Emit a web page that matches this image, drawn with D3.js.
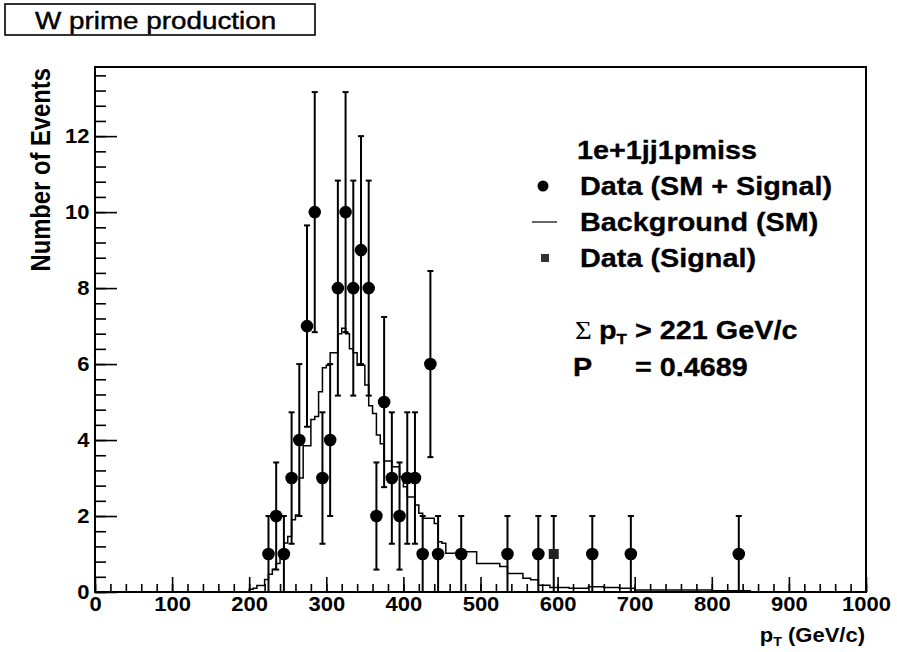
<!DOCTYPE html>
<html><head><meta charset="utf-8">
<script src="https://cdn.jsdelivr.net/npm/d3@7"></script>
<style>body{margin:0;background:#fff} svg{display:block}</style>
</head><body>
<svg id="c" width="897" height="652"></svg>
<script>
// ---- data ----
const xTickValues = [0,100,200,300,400,500,600,700,800,900,1000];
const xMinorValues = d3.range(0, 1001, 20);
const yTickValues = [0,2,4,6,8,10,12];
const yMinorValues = d3.range(0, 13.8, 0.4);

const dataCenters = [225,235,245,255,265,275,285,295,305,315,325,335,345,355,365,375,385,395,405,415,425,435,445,475,535,575,645,695,835];
const dataCounts  = [1,2,1,3,4,7,10,3,4,8,10,8,9,8,2,5,3,2,3,3,1,6,1,1,1,1,1,1,1];
const dataErrors  = [1,1.41,1,1.73,2,2.65,3.16,1.73,2,2.83,3.16,2.83,3,2.83,1.41,2.24,1.73,1.41,1.73,1.73,1,2.45,1,1,1,1,1,1,1];

const signalCenters = [595];
const signalCounts  = [1];
const signalErrors  = [1];

const bgEdges = [200,205,210,220,225,230,235,240,245,250,255,260,265,270,280,285,290,295,300,305,315,320,325,330,335,340,350,355,360,365,370,375,385,395,400,405,415,420,425,440,445,450,455,475,495,525,535,555,565,575,590,615,640,660,680,700,800,850];
const bgValues = [0.07,0.10,0.17,0.33,0.47,0.60,0.75,0.97,1.29,1.46,1.90,2.03,3.00,3.85,4.54,4.62,5.27,5.90,5.97,6.30,6.80,6.94,6.80,6.40,6.30,5.97,5.45,4.90,4.70,4.13,3.90,3.45,3.30,3.03,2.77,2.50,2.29,2.07,1.94,1.80,1.32,1.28,1.02,1.06,0.75,0.67,0.49,0.36,0.32,0.18,0.12,0.10,0.14,0.12,0.10,0.05,0.03];

const titleText = "W prime production";
const legendTitle = "1e+1jj1pmiss";
const legendLabels = ["Data (SM + Signal)", "Background (SM)", "Data (Signal)"];
const cutText = "221 GeV/c";
const probText = "= 0.4689";

// ---- layout ----
const svg = d3.select("#c");
const L = 95, R = 866, T = 67, B = 592;
const x = d3.scaleLinear().domain([0, 1000]).range([L, R]);
const y = d3.scaleLinear().domain([0, 13.82]).range([B, T]);
const SX = 1.1;
const FONT = "'Liberation Sans', Arial, Helvetica, sans-serif";

// title box
svg.append("rect").attr("x", 5).attr("y", 4).attr("width", 310).attr("height", 31)
  .attr("fill", "#fff").attr("stroke", "#000").attr("stroke-width", 1.6);
svg.append("g").attr("transform", "translate(35,28.5) scale(1.15,1)")
  .append("text").attr("font-family", FONT).attr("font-size", 24.2)
  .attr("stroke", "#000").attr("stroke-width", 0.45).text(titleText);

// frame
svg.append("rect").attr("x", L).attr("y", T).attr("width", R - L).attr("height", B - T)
  .attr("fill", "none").attr("stroke", "#000").attr("stroke-width", 2);

// axes
function styleAxis(g) {
  g.select(".domain").remove();
  g.selectAll("line").attr("stroke", "#000").attr("stroke-width", 1.6);
}
const gxMinor = svg.append("g").attr("transform", `translate(0,${B})`)
  .call(d3.axisBottom(x).tickValues(xMinorValues).tickSize(-8).tickFormat(""));
styleAxis(gxMinor);
const gx = svg.append("g").attr("transform", `translate(0,${B})`)
  .call(d3.axisBottom(x).tickValues(xTickValues).tickSize(-15).tickPadding(6).tickFormat(d3.format("d")));
styleAxis(gx);
gx.selectAll("text").attr("font-family", FONT).attr("font-weight", "bold").attr("font-size", 20)
  .attr("fill", "#000").attr("y", 19).attr("dy", 0).attr("transform", `scale(${SX},1)`);

const gyMinor = svg.append("g").attr("transform", `translate(${L},0)`)
  .call(d3.axisLeft(y).tickValues(yMinorValues).tickSize(-11).tickFormat(""));
styleAxis(gyMinor);
const gy = svg.append("g").attr("transform", `translate(${L},0)`)
  .call(d3.axisLeft(y).tickValues(yTickValues).tickSize(-22).tickPadding(6).tickFormat(d3.format("d")));
styleAxis(gy);
gy.selectAll("text").attr("font-family", FONT).attr("font-weight", "bold").attr("font-size", 20)
  .attr("fill", "#000").attr("x", -5).attr("dy", "0.34em").attr("transform", `scale(${SX},1)`);

// axis titles
const xt = svg.append("g").attr("transform", `translate(865,642) scale(${SX},1)`)
  .append("text").attr("font-family", FONT).attr("font-weight", "bold").attr("font-size", 20)
  .attr("text-anchor", "end");
xt.append("tspan").text("p");
xt.append("tspan").attr("font-size", 13).attr("dy", 4).text("T");
xt.append("tspan").attr("dy", -4).text(" (GeV/c)");

svg.append("g").attr("transform", `translate(50,68) rotate(-90) scale(1,1.18)`)
  .append("text").attr("font-family", FONT).attr("font-weight", "bold").attr("font-size", 23.8)
  .attr("text-anchor", "end").text("Number of Events");

// background histogram
const plot = svg.append("g");
let d = `M${x(bgEdges[0])},${y(0)}`;
bgValues.forEach((v, i) => {
  d += `V${y(v)}H${x(bgEdges[i + 1])}`;
});
d += `V${y(0)}`;
plot.append("path").attr("d", d).attr("fill", "none").attr("stroke", "#000").attr("stroke-width", 1.5);

// data error bars + markers
function errBars(centers, counts, errs) {
  centers.forEach((c, i) => {
    const xc = x(c), y0 = y(Math.max(0, counts[i] - errs[i])), y1 = y(counts[i] + errs[i]);
    plot.append("line").attr("x1", xc).attr("x2", xc).attr("y1", y0).attr("y2", y1)
      .attr("stroke", "#000").attr("stroke-width", 2);
    [y0, y1].forEach(yy => plot.append("line").attr("x1", xc - 3).attr("x2", xc + 3)
      .attr("y1", yy).attr("y2", yy).attr("stroke", "#000").attr("stroke-width", 2));
  });
}
errBars(dataCenters, dataCounts, dataErrors);
errBars(signalCenters, signalCounts, signalErrors);

plot.selectAll("circle.pt").data(dataCenters).enter().append("circle").attr("class", "pt")
  .attr("cx", c => x(c)).attr("cy", (c, i) => y(dataCounts[i])).attr("r", 6.3).attr("fill", "#000");
plot.selectAll("rect.sig").data(signalCenters).enter().append("rect").attr("class", "sig")
  .attr("x", c => x(c) - 5).attr("y", (c, i) => y(signalCounts[i]) - 5)
  .attr("width", 10).attr("height", 10).attr("fill", "#222");

// legend
const LS = 1.13, LF = 25.5;
function ltext(xp, yp, str) {
  return svg.append("g").attr("transform", `translate(${xp},${yp}) scale(${LS},1)`)
    .append("text").attr("font-family", FONT).attr("font-weight", "bold").attr("font-size", LF)
    .attr("stroke", "#000").attr("stroke-width", 0.3).text(str);
}
ltext(577, 159, legendTitle);
svg.append("circle").attr("cx", 543).attr("cy", 186).attr("r", 5.5).attr("fill", "#000");
ltext(580, 195, legendLabels[0]);
svg.append("line").attr("x1", 532).attr("x2", 557).attr("y1", 222).attr("y2", 222)
  .attr("stroke", "#000").attr("stroke-width", 1.2);
ltext(580, 231, legendLabels[1]);
svg.append("rect").attr("x", 541).attr("y", 254).attr("width", 8).attr("height", 8).attr("fill", "#333");
ltext(580, 267, legendLabels[2]);

const st = svg.append("g").attr("transform", `translate(575,339) scale(${LS},1)`)
  .append("text").attr("font-family", FONT).attr("font-weight", "bold").attr("font-size", LF)
  .attr("stroke", "#000").attr("stroke-width", 0.3);
st.append("tspan").attr("font-family", "'Liberation Serif', 'Times New Roman', serif").attr("font-weight", "normal").attr("stroke-width", 0).text("Σ ");
st.append("tspan").text("p");
st.append("tspan").attr("font-size", 15).attr("dy", 5).text("T");
st.append("tspan").attr("dy", -5).text(" > " + cutText);

ltext(573, 376, "P");
ltext(635, 376, probText);
</script>
</body></html>
